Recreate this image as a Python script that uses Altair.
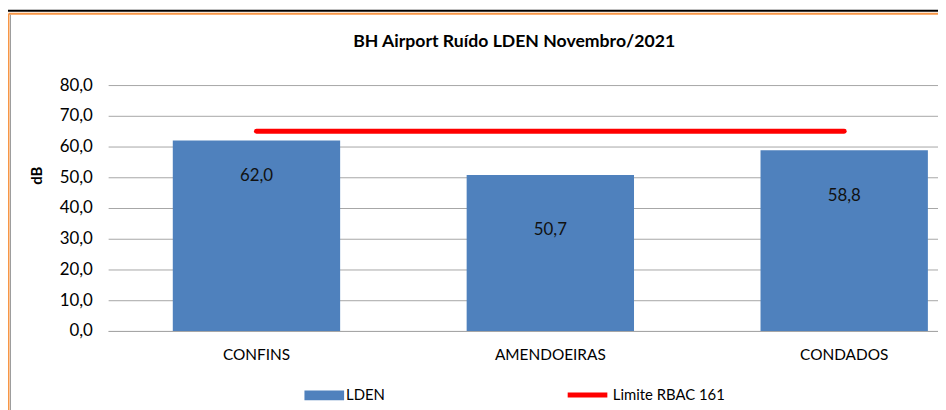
import altair as alt
import pandas as pd

# ---- data ----
stations = ["CONFINS", "AMENDOEIRAS", "CONDADOS"]
lden = [62.0, 50.7, 58.8]
limit_value = 65.0
y_ticks = [0, 10, 20, 30, 40, 50, 60, 70, 80]

# style-only: pixel offsets of the value labels below each bar top
label_dy = [36, 55, 46]

BLUE = "#4F81BD"
RED = "#FF0000"
ORANGE = "#F79646"
GRID = "#A6A6A6"
FONT = "Lato"

df = pd.DataFrame({
    "station": stations,
    "value": lden,
    "limit": [limit_value] * len(stations),
    "s_bar": ["LDEN"] * len(stations),
    "s_line": ["Limite RBAC 161"] * len(stations),
})

W, H = 837, 248
LBL = "replace(format(datum.value, '.1f'), '.', ',')"

x_axis = alt.Axis(title=None, labelAngle=0, ticks=False, domain=True,
                  domainColor=GRID, labelFont=FONT, labelFontSize=15.5,
                  labelColor="#000000", labelPadding=17)
x_scale = alt.Scale(range=[0, 892], paddingInner=0.4305, paddingOuter=0.22)

y_axis = alt.Axis(values=y_ticks, labelExpr=LBL, labelOverlap=False, title="dB",
                  titleX=-72.5, titleY=91, titleAngle=270,
                  titleAlign="center", titleBaseline="middle",
                  titleFont=FONT, titleFontSize=15, titleFontWeight="bold",
                  titleColor="#000000",
                  domain=False, ticks=False, tickSize=0,
                  grid=True, gridColor=GRID, gridWidth=1,
                  labelFont=FONT, labelFontSize=17, labelColor="#000000",
                  labelPadding=16)
y_scale = alt.Scale(domain=[0, 80], nice=False)


def X():
    return alt.X("station:N", sort=stations, scale=x_scale, axis=x_axis)


def Y(field):
    return alt.Y(field, scale=y_scale, axis=y_axis)


base = alt.Chart(df)

bars = base.mark_bar().encode(
    x=X(),
    y=Y("value:Q"),
    fill=alt.Fill("s_bar:N", scale=alt.Scale(domain=["LDEN"], range=[BLUE]),
                  legend=alt.Legend(orient="none", legendX=198, legendY=293,
                                    title=None, symbolType="M-1,-0.25H1V0.25H-1Z",
                                    symbolSize=1600, symbolStrokeWidth=0,
                                    labelOffset=2, labelFont=FONT, labelFontSize=15,
                                    labelBaseline="middle",
                                    labelColor="#000000", padding=0)),
)

line = base.mark_line(strokeWidth=5, strokeCap="round").encode(
    x=X(),
    y=Y("limit:Q"),
    stroke=alt.Stroke("s_line:N", scale=alt.Scale(domain=["Limite RBAC 161"], range=[RED]),
                      legend=alt.Legend(orient="none", legendX=461, legendY=290,
                                        title=None, symbolType="stroke",
                                        symbolSize=1600, symbolStrokeWidth=5,
                                        labelOffset=3, labelFont=FONT, labelFontSize=15,
                                        labelBaseline="middle",
                                        labelColor="#000000", padding=0)),
)

texts = []
for st, dy in zip(stations, label_dy):
    texts.append(
        base.transform_filter(alt.datum.station == st)
        .transform_calculate(lbl=LBL)
        .mark_text(font=FONT, fontSize=17, color="#111111", dy=dy, baseline="middle")
        .encode(x=X(), y=Y("value:Q"), text="lbl:N")
    )

one = alt.Data(values=[{"k": 1}])
black_bar = alt.Chart(one).mark_rect(color="#000000").encode(
    x=alt.value(-101), x2=alt.value(W + 5), y=alt.value(-76), y2=alt.value(-74))
frame_top = alt.Chart(one).mark_rule(color=ORANGE, strokeWidth=2).encode(
    x=alt.value(-100.5), x2=alt.value(W + 5), y=alt.value(-72))
frame_left = alt.Chart(one).mark_rule(color=ORANGE, strokeWidth=2).encode(
    x=alt.value(-100.5), y=alt.value(-72), y2=alt.value(330))
frame_inner = alt.Chart(one).mark_rule(color="#9a9a9a", strokeWidth=1).encode(
    x=alt.value(-98.5), y=alt.value(-71), y2=alt.value(330))

chart = alt.layer(
    black_bar, frame_top, frame_left, frame_inner, bars, line, *texts
).properties(
    width=W, height=H,
    title=alt.TitleParams("BH Airport Ruído LDEN Novembro/2021", anchor="middle",
                          frame="group", dx=-9, offset=-41, font=FONT,
                          fontSize=17.8, fontWeight="bold", color="#000000"),
    autosize=alt.AutoSizeParams(type="none"),
    padding={"left": 101, "top": 76, "right": 0, "bottom": 78},
    background="#FFFFFF",
).configure_view(stroke=None).resolve_scale(fill="independent", stroke="independent")

chart.save("out.html", embed_options={"renderer": "svg", "actions": False})
